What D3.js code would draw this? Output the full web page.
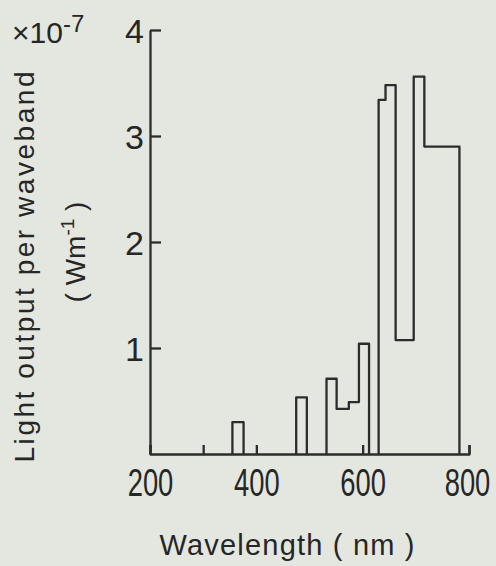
<!DOCTYPE html>
<html>
<head>
<meta charset="utf-8">
<script src="https://cdn.jsdelivr.net/npm/d3@7"></script>
<style>
  html, body { margin: 0; padding: 0; background: #e3e7e0; }
  svg { display: block; }
  text { font-family: "Liberation Sans", Arial, sans-serif; fill: #262626; }
</style>
</head>
<body>
<svg id="chart" width="496" height="566"></svg>
<script>
// ---- Data ----
const bandStart = [355, 475, 532, 551, 574, 593, 630, 643, 662, 696, 716];   // nm
const bandEnd   = [376, 495, 551, 574, 593, 612, 643, 662, 696, 716, 782];   // nm
const power     = [0.30, 0.535, 0.71, 0.425, 0.49, 1.04, 3.34, 3.48, 1.075, 3.56, 2.90]; // ×10^-7 W m^-1

const xTicks = [200, 300, 400, 600, 800];
const xTickLabels = ["200", "", "400", "600", "800"];
const yTicks = [1, 2, 3, 4];
const yTickLabels = ["1", "2", "3", "4"];

// ---- Layout ----
const svg = d3.select("#chart");
const ink = "#2c2c2c";

const x = d3.scaleLinear().domain([200, 800]).range([150, 469]);
const y = d3.scaleLinear().domain([0, 4]).range([454, 30]);

// ---- Bars as a stepped outline ----
const p = d3.path();
let prevEnd = null;
for (let i = 0; i < bandStart.length; i++) {
  const s = bandStart[i], e = bandEnd[i], v = power[i];
  if (prevEnd === null || s !== prevEnd) {
    if (prevEnd !== null) p.lineTo(x(prevEnd), y(0));
    p.moveTo(x(s), y(0));
  }
  p.lineTo(x(s), y(v));
  p.lineTo(x(e), y(v));
  prevEnd = e;
}
p.lineTo(x(prevEnd), y(0));

svg.append("path")
  .attr("d", p.toString())
  .attr("fill", "none")
  .attr("stroke", ink)
  .attr("stroke-width", 2.3)
  .attr("stroke-linejoin", "round");

// ---- Y axis ----
const yAxis = d3.axisLeft(y)
  .tickValues(yTicks)
  .tickFormat((d, i) => yTickLabels[i])
  .tickSizeInner(-11)
  .tickSizeOuter(0)
  .tickPadding(6);

const gy = svg.append("g").attr("transform", "translate(150,0)").call(yAxis);
gy.select(".domain").attr("stroke", ink).attr("stroke-width", 2.3);
gy.selectAll(".tick line").attr("stroke", ink).attr("stroke-width", 2.3);
gy.selectAll(".tick text")
  .attr("dy", null).attr("y", 12)
  .style("font-size", "34px")
  .attr("fill", "#262626");

// ---- X axis ----
const xAxis = d3.axisBottom(x)
  .tickValues(xTicks)
  .tickFormat((d, i) => xTickLabels[i])
  .tickSizeInner(-9)
  .tickSizeOuter(-9)
  .tickPadding(0);

const gx = svg.append("g").attr("transform", "translate(0,454)").call(xAxis);
gx.select(".domain").attr("stroke", ink).attr("stroke-width", 2.3).attr("stroke-linejoin", "round");
gx.selectAll(".tick line").attr("stroke", ink).attr("stroke-width", 2.3);
gx.selectAll(".tick text")
  .attr("dy", null).attr("y", 0).attr("x", 0)
  .attr("transform", d => `translate(${d === 800 ? -2 : 0},42) scale(0.72,1)`)
  .style("font-size", "38px")
  .attr("fill", "#262626");

// ---- Axis titles ----
svg.append("text")
  .attr("x", 287).attr("y", 555)
  .attr("text-anchor", "middle")
  .attr("textLength", 255).attr("lengthAdjust", "spacing")
  .style("font-size", "29px")
  .text("Wavelength ( nm )");

svg.append("text")
  .attr("transform", "translate(34,267) rotate(-90)")
  .attr("text-anchor", "middle")
  .attr("textLength", 391).attr("lengthAdjust", "spacing")
  .style("font-size", "28px")
  .text("Light output per waveband");

const unit = svg.append("text")
  .attr("transform", "translate(85,252) rotate(-90)")
  .attr("text-anchor", "middle")
  .style("font-size", "28px");
unit.append("tspan").text("( Wm");
unit.append("tspan").attr("dy", -11).style("font-size", "19px").text("-1");
unit.append("tspan").attr("dy", 11).text("  )");

// ---- Multiplier ----
const mult = svg.append("text").attr("x", 12).attr("y", 43).style("font-size", "30px");
mult.append("tspan").text("×10");
mult.append("tspan").attr("dy", -11).style("font-size", "24px").text("-7");
</script>
</body>
</html>
